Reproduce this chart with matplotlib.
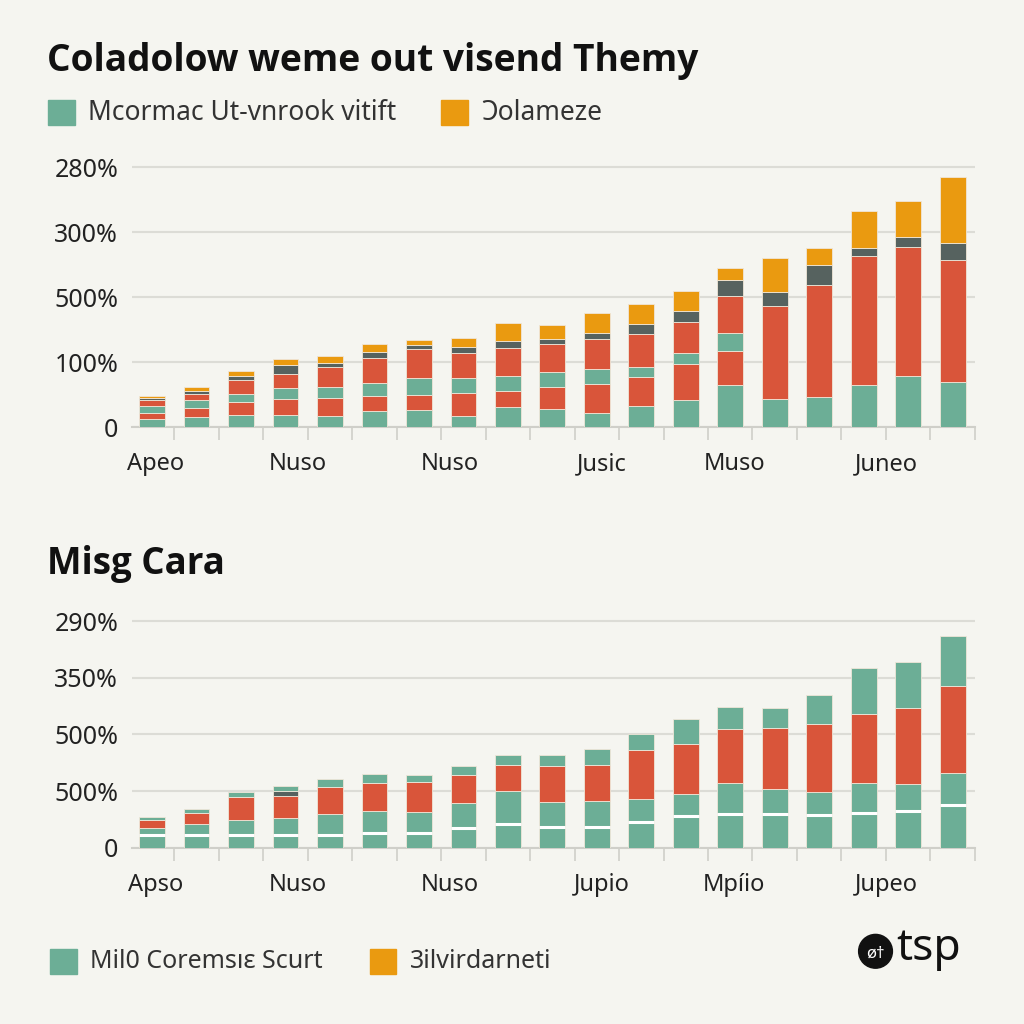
import numpy as np
import matplotlib
matplotlib.use("Agg")
import matplotlib.pyplot as plt
from matplotlib.patches import Rectangle, Circle

plt.rcParams['font.family'] = ['Noto Sans', 'DejaVu Sans']

# colours
BG = "#f5f5f0"
GREEN = "#6cae96"
RED = "#d9553a"
ORANGE = "#ea9a10"
GREY = "#56625f"
GRID = "#dcdcd6"

# ---- top panel data (units of one grid step) ----
top_green1 = [0.13, 0.16, 0.18, 0.19, 0.17, 0.25, 0.26, 0.17, 0.31, 0.28,
              0.22, 0.32, 0.42, 0.65, 0.43, 0.46, 0.64, 0.79, 0.70]
top_red1 = [0.09, 0.14, 0.20, 0.24, 0.27, 0.22, 0.24, 0.36, 0.25, 0.34,
            0.44, 0.45, 0.55, 0.52, 1.44, 1.73, 1.99, 1.98, 1.87]
top_green2 = [0.10, 0.11, 0.13, 0.17, 0.18, 0.21, 0.25, 0.22, 0.23, 0.23,
              0.23, 0.16, 0.17, 0.27, 0.0, 0.0, 0.0, 0.0, 0.0]
top_red2 = [0.10, 0.10, 0.21, 0.22, 0.30, 0.39, 0.45, 0.39, 0.43, 0.43,
            0.46, 0.50, 0.47, 0.57, 0.0, 0.0, 0.0, 0.0, 0.0]
top_grey = [0.03, 0.05, 0.07, 0.14, 0.06, 0.08, 0.06, 0.09, 0.10, 0.08,
            0.09, 0.16, 0.17, 0.25, 0.21, 0.31, 0.12, 0.16, 0.26]
top_orange = [0.03, 0.05, 0.08, 0.08, 0.11, 0.13, 0.08, 0.14, 0.28, 0.21,
              0.31, 0.31, 0.31, 0.19, 0.53, 0.26, 0.58, 0.55, 1.02]

# ---- bottom panel data ----
bot_green1 = [0.22, 0.22, 0.22, 0.22, 0.22, 0.26, 0.26, 0.35, 0.42, 0.36,
              0.36, 0.45, 0.56, 0.60, 0.59, 0.58, 0.61, 0.65, 0.76]
bot_green2 = [0.13, 0.20, 0.27, 0.31, 0.37, 0.39, 0.37, 0.44, 0.58, 0.45,
              0.46, 0.42, 0.39, 0.54, 0.44, 0.40, 0.53, 0.47, 0.56]
bot_red = [0.14, 0.19, 0.41, 0.39, 0.49, 0.50, 0.54, 0.49, 0.47, 0.64,
           0.64, 0.85, 0.89, 0.96, 1.08, 1.20, 1.23, 1.35, 1.53]
bot_grey = [0.0, 0.0, 0.0, 0.09, 0.0, 0.0, 0.0, 0.0, 0.0, 0.0,
            0.0, 0.0, 0.0, 0.0, 0.0, 0.0, 0.0, 0.0, 0.0]
bot_green3 = [0.06, 0.08, 0.09, 0.09, 0.13, 0.16, 0.11, 0.16, 0.17, 0.18,
              0.29, 0.29, 0.44, 0.38, 0.35, 0.51, 0.81, 0.80, 0.88]

top_ytick_labels = ["0", "100%", "500%", "300%", "280%"]
bot_ytick_labels = ["0", "500%", "500%", "350%", "290%"]
label_pos = [0.07, 3.28, 6.69, 10.12, 13.09, 16.52]
top_xlabels = ["Apeo", "Nuso", "Nuso", "Jusic", "Muso", "Juneo"]
bot_xlabels = ["Apso", "Nuso", "Nuso", "Jupio", "Mp\u00edio", "Jupeo"]

x = np.arange(len(top_green1))
W = 0.58
TITLE_FONT = ['Open Sans', 'Lato', 'DejaVu Sans']

fig = plt.figure(figsize=(10.24, 10.24), dpi=100, facecolor=BG)


def style_axes(ax, yticklabels, xlabels):
    ax.set_facecolor(BG)
    ax.set_xlim(-0.45, 18.47)
    ax.set_ylim(0, 4.1)
    ax.set_yticks(range(len(yticklabels)))
    ax.set_yticklabels(yticklabels, fontsize=18, color="#222222")
    ax.tick_params(axis="y", length=0, pad=10)
    ax.grid(axis="y", color=GRID, linewidth=1.5)
    ax.set_axisbelow(True)
    for s in ["top", "right", "left"]:
        ax.spines[s].set_visible(False)
    ax.spines["bottom"].set_color("#cfcfc9")
    ax.spines["bottom"].set_linewidth(1.5)
    ax.set_xticks(label_pos)
    ax.set_xticklabels(xlabels, fontsize=17, color="#222222")
    ax.tick_params(axis="x", which="major", length=0, pad=18)
    ax.set_xticks(x + 0.5, minor=True)
    ax.tick_params(axis="x", which="minor", length=9, width=1.2, color="#cfcfc9")


def stack(ax, series, colors, lw):
    bottom = np.zeros(len(x))
    for vals, c in zip(series, colors):
        vals = np.array(vals)
        ax.bar(x, vals, W, bottom=bottom, color=c, edgecolor="#efe6d8",
               linewidth=lw, zorder=3)
        bottom = bottom + vals
    return bottom


# ---- top chart ----
ax1 = fig.add_axes([0.129, 0.583, 0.823, 0.260])
stack(ax1, [top_green1, top_red1, top_green2, top_red2, top_grey, top_orange],
      [GREEN, RED, GREEN, RED, GREY, ORANGE], 0.6)
style_axes(ax1, top_ytick_labels, top_xlabels)

# ---- bottom chart ----
ax2 = fig.add_axes([0.129, 0.172, 0.823, 0.227])
stack(ax2, [bot_green1, bot_green2, bot_red, bot_grey, bot_green3],
      [GREEN, GREEN, RED, GREY, GREEN], 0.6)
# white divider inside the lower green block
ax2.hlines(bot_green1, x - W / 2, x + W / 2, color="white", linewidth=2.2, zorder=4)
style_axes(ax2, bot_ytick_labels, bot_xlabels)

# ---- titles ----
fig.text(0.046, 0.940, "Coladolow weme out visend Themy", fontsize=26.7,
         fontweight="bold", family=TITLE_FONT, color="#111111",
         va="center", ha="left")
fig.text(0.046, 0.449, "Misg Cara", fontsize=26.5, fontweight="bold",
         family=TITLE_FONT, color="#111111", va="center", ha="left")

# ---- legends ----
def legend_item(xf, yf, color, label, size):
    fig.patches.append(Rectangle((xf, yf - 0.0125), 0.026, 0.025, color=color,
                                 transform=fig.transFigure, figure=fig))
    fig.text(xf + 0.039, yf, label, fontsize=size, color="#333333",
             va="center", ha="left")


legend_item(0.047, 0.890, GREEN, "Mcormac Ut-vnrook vitift", 19)
legend_item(0.431, 0.890, ORANGE, "\u0186olameze", 19)
legend_item(0.049, 0.061, GREEN, "Mil0 Coremsıɛ Scurt", 18)
legend_item(0.361, 0.061, ORANGE, "3ilvirdarneti", 18)

# ---- logo ----
fig.patches.append(Circle((0.855, 0.071), 0.0165, color="#111111",
                          transform=fig.transFigure, figure=fig))
fig.text(0.855, 0.069, "\u00f8\u2020", fontsize=12, color="white",
         ha="center", va="center", fontweight="bold")
fig.text(0.875, 0.073, "tsp", fontsize=32, color="#111111", ha="left",
         va="center", fontweight="light")

fig.savefig("out.png", dpi=100, facecolor=BG)
